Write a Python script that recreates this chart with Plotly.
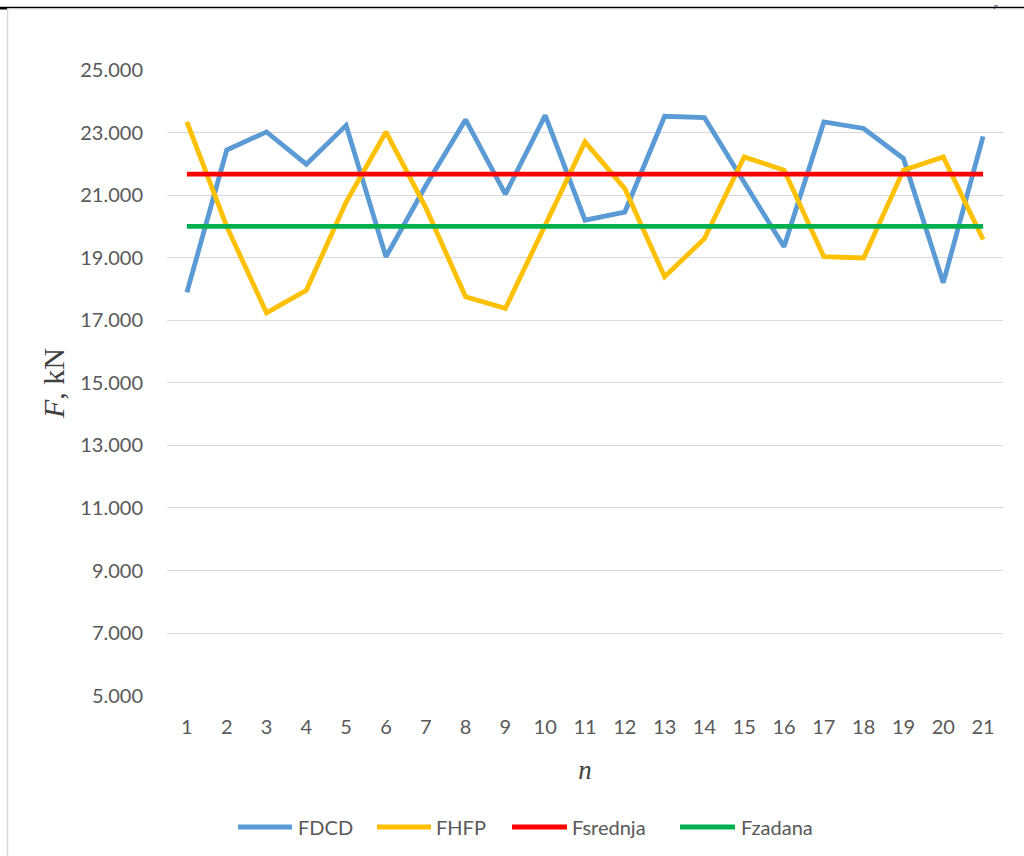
import plotly.graph_objects as go

n = list(range(1, 22))
fdcd = [17890, 22440, 23020, 21990, 23230, 19030, 21300, 23410, 21030, 23550, 20200,
        20460, 23520, 23480, 21400, 19350, 23340, 23130, 22170, 18200, 22880]
fhfp = [23340, 20000, 17240, 17960, 20780, 23020, 20600, 17750, 17380, 20050, 22700,
        21210, 18390, 19610, 22220, 21800, 19030, 18990, 21800, 22220, 19580]
f_srednja = [21670] * 21
f_zadana = [20000] * 21
y_ticks = [5000, 7000, 9000, 11000, 13000, 15000, 17000, 19000, 21000, 23000, 25000]

series_names = ["FDCD", "FHFP", "Fsrednja", "Fzadana"]
series_colors = ["#5B9BD5", "#FFC000", "#FF0000", "#00B050"]
series_values = [fdcd, fhfp, f_srednja, f_zadana]

W, H = 1024, 856
L, R, T, B = 167, 1003, 70, 696
TXT = "#595959"
FONT = "Lato, Open Sans, Arial"


def px(x):
    return (x - L) / (R - L)


def py(y):
    return (B - y) / (B - T)


fig = go.Figure()
for name, vals, col in zip(series_names, series_values, series_colors):
    fig.add_trace(go.Scatter(x=n, y=vals, name=name, mode="lines",
                             line=dict(color=col, width=4.8), showlegend=False))

fig.update_layout(
    width=W, height=H, autosize=False,
    margin=dict(l=L, r=W - R, t=T, b=H - B, pad=0),
    paper_bgcolor="white", plot_bgcolor="white",
    separators=",.",
    font=dict(family=FONT, size=20, color=TXT),
    showlegend=False,
)
fig.update_xaxes(range=[0.5, 21.5], tickmode="array", tickvals=n, ticktext=[str(v) for v in n],
                 showgrid=False, showline=False, zeroline=False, ticks="",
                 ticklabelstandoff=17,
                 title=dict(text="<i>n</i>", font=dict(family="Liberation Serif, Times New Roman", size=27, color="#404040"),
                            standoff=23))
fig.update_yaxes(range=[4990, 25000], tickmode="array", tickvals=y_ticks, tickformat=",.0f",
                 showgrid=True, gridcolor="#D9D9D9", gridwidth=1.3, zeroline=False, showline=False,
                 ticks="", ticklabelstandoff=23,
                 title=dict(text="<i>F</i>, kN", font=dict(family="Liberation Serif, Times New Roman", size=30, color="#404040"),
                            standoff=6))

# custom legend (line samples + labels)
leg_y = 827
leg_lines = [(238, 292), (377, 431), (512, 567), (680, 735)]
leg_text_x = [296, 434, 570, 739]
for (x0, x1), tx, name, col in zip(leg_lines, leg_text_x, series_names, series_colors):
    fig.add_shape(type="line", xref="paper", yref="paper", x0=px(x0), x1=px(x1),
                  y0=py(leg_y), y1=py(leg_y), line=dict(color=col, width=4.8))
    fig.add_annotation(xref="paper", yref="paper", x=px(tx), y=py(leg_y), text=name,
                       showarrow=False, xanchor="left", yanchor="middle",
                       font=dict(family=FONT, size=20, color=TXT))

# page / chart borders from the source document
fig.add_shape(type="line", xref="paper", yref="paper", x0=px(0), x1=px(W),
              y0=py(7.5), y1=py(7.5), line=dict(color="black", width=1.5))
fig.add_shape(type="rect", xref="paper", yref="paper", x0=px(0), x1=px(7),
              y0=py(9.5), y1=py(7), line=dict(width=0), fillcolor="black")
fig.add_shape(type="line", xref="paper", yref="paper", x0=px(7.5), x1=px(7.5),
              y0=py(9), y1=py(H + 2), line=dict(color="#D9D9D9", width=1.5))
fig.add_shape(type="line", xref="paper", yref="paper", x0=px(8), x1=px(W),
              y0=py(9), y1=py(9), line=dict(color="#D9D9D9", width=1))
fig.add_annotation(xref="paper", yref="paper", x=px(995.5), y=py(0), text="<i>p</i>",
                   showarrow=False, xanchor="center", yanchor="top",
                   font=dict(family="Liberation Serif, Times New Roman", size=7, color="black"))

fig.write_html("out.html", config={"displayModeBar": False},
               post_script="document.body.style.margin='0px';")
